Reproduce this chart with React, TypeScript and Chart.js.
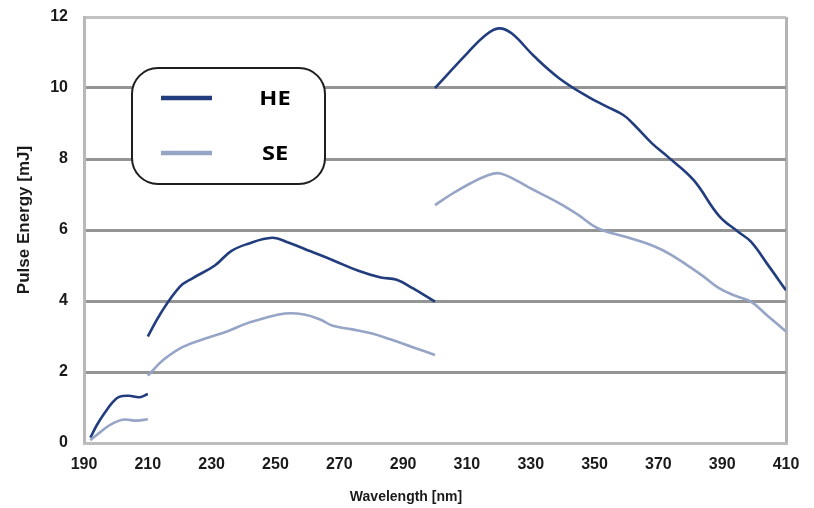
import React, { useEffect, useRef } from "react";
import { Chart, registerables } from "chart.js";

Chart.register(...registerables);

// Wavelength [nm] / Pulse Energy [mJ]
const heDeepUvX = [192, 194, 196.5, 199, 201, 204, 207.5, 210];
const heDeepUvY = [0.15, 0.5, 0.85, 1.15, 1.3, 1.33, 1.29, 1.38];
const seDeepUvX = [192, 195, 198, 201, 203, 206.5, 210];
const seDeepUvY = [0.08, 0.3, 0.5, 0.63, 0.66, 0.63, 0.67];

const heUvX = [210, 214, 220, 224, 231, 236, 241, 249, 254, 261, 268, 276, 283, 288, 293, 300];
const heUvY = [3.0, 3.65, 4.4, 4.64, 5.0, 5.4, 5.6, 5.78, 5.65, 5.4, 5.15, 4.85, 4.66, 4.6, 4.36, 3.98];
const seUvX = [210, 215, 221, 229, 235, 241, 247, 253, 259, 264, 268, 274, 280, 286, 293, 300];
const seUvY = [1.9, 2.35, 2.71, 2.97, 3.15, 3.37, 3.53, 3.65, 3.62, 3.48, 3.3, 3.2, 3.09, 2.92, 2.7, 2.48];

const heVisX = [300, 310, 316, 320, 324, 331, 339, 348, 354, 359, 362, 368, 373, 381, 389, 395, 399, 404, 410];
const heVisY = [10.0, 10.97, 11.5, 11.68, 11.54, 10.9, 10.27, 9.75, 9.47, 9.24, 9.0, 8.44, 8.06, 7.41, 6.4, 5.95, 5.67, 5.06, 4.3];
const seVisX = [300, 305, 311, 316, 320, 325, 330, 339, 345, 351, 360, 369, 374, 379, 384, 389, 394, 399, 404, 410];
const seVisY = [6.7, 7.0, 7.31, 7.52, 7.6, 7.42, 7.17, 6.75, 6.42, 6.05, 5.8, 5.53, 5.3, 5.01, 4.7, 4.36, 4.15, 3.98, 3.6, 3.14];

const xTicks = [190, 210, 230, 250, 270, 290, 310, 330, 350, 370, 390, 410];
const yTicks = [0, 2, 4, 6, 8, 10, 12];

const seriesNames = ["HE", "SE"];
const xTitle = "Wavelength [nm]";
const yTitle = "Pulse Energy [mJ]";

const HE_COLOR = "#223d7e";
const SE_COLOR = "#96a4c6";

const pts = (xs: number[], ys: number[]) => xs.map((x, i) => ({ x, y: ys[i] }));

const overlayPlugin = {
  id: "overlay",
  afterDraw(chart: any) {
    const ctx = chart.ctx as CanvasRenderingContext2D;
    ctx.save();
    // axis titles
    ctx.fillStyle = "#1a1a1a";
    ctx.textAlign = "center";
    ctx.textBaseline = "middle";
    ctx.font = "bold 14px 'Liberation Sans', Arial, sans-serif";
    ctx.fillText(xTitle, 406, 497);
    ctx.save();
    ctx.translate(24, 220);
    ctx.rotate(-Math.PI / 2);
    ctx.font = "bold 17px 'Liberation Sans', Arial, sans-serif";
    ctx.fillText(yTitle, 0, 0);
    ctx.restore();

    // legend box
    const bx = 132, by = 68, bw = 193, bh = 116, r = 26;
    ctx.beginPath();
    ctx.roundRect(bx, by, bw, bh, r);
    ctx.fillStyle = "#ffffff";
    ctx.fill();
    ctx.lineWidth = 2;
    ctx.strokeStyle = "#1e1e1e";
    ctx.stroke();

    const rows = [
      { name: seriesNames[0], color: HE_COLOR, y: 98 },
      { name: seriesNames[1], color: SE_COLOR, y: 153 },
    ];
    rows.forEach((row) => {
      ctx.beginPath();
      ctx.moveTo(161, row.y);
      ctx.lineTo(212, row.y);
      ctx.lineWidth = 4.5;
      ctx.strokeStyle = row.color;
      ctx.stroke();
      ctx.save();
      ctx.translate(275, row.y + 1);
      ctx.scale(1.18, 1);
      ctx.fillStyle = "#000000";
      ctx.font = "bold 20px 'Open Sans', 'Noto Sans', sans-serif";
      ctx.textAlign = "center";
      ctx.textBaseline = "middle";
      ctx.fillText(row.name, 0, 0);
      ctx.restore();
    });
    ctx.restore();
  },
};

export default function App() {
  const ref = useRef<HTMLCanvasElement>(null);

  useEffect(() => {
    if (!ref.current) return;
    const mk = (data: any, color: string) => ({
      data,
      borderColor: color,
      backgroundColor: color,
      borderWidth: 2.6,
      pointRadius: 0,
      tension: 0.4,
      fill: false,
    });
    const chart = new Chart(ref.current, {
      type: "line",
      data: {
        datasets: [
          mk(pts(seDeepUvX, seDeepUvY), SE_COLOR),
          mk(pts(seUvX, seUvY), SE_COLOR),
          mk(pts(seVisX, seVisY), SE_COLOR),
          mk(pts(heDeepUvX, heDeepUvY), HE_COLOR),
          mk(pts(heUvX, heUvY), HE_COLOR),
          mk(pts(heVisX, heVisY), HE_COLOR),
        ],
      },
      options: {
        animation: false,
        responsive: false,
        layout: { padding: { left: 0, top: 17, right: 28, bottom: 0 } },
        plugins: { legend: { display: false }, tooltip: { enabled: false } },
        scales: {
          x: {
            type: "linear",
            min: 190,
            max: 410,
            afterBuildTicks: (s: any) => {
              s.ticks = xTicks.map((v) => ({ value: v }));
            },
            afterFit: (s: any) => {
              s.height = 65;
              s.paddingLeft = 0;
              s.paddingRight = 0;
            },
            border: { display: true, color: "#bdbdbd", width: 3 },
            grid: {
              drawTicks: false,
              color: (c: any) => (c.tick && c.tick.value === 410 ? "#b3b3b3" : "rgba(0,0,0,0)"),
              lineWidth: 3,
            },
            ticks: {
              padding: 12,
              color: "#1a1a1a",
              font: { family: "'Liberation Sans', Arial, sans-serif", size: 16, weight: "bold" },
              maxRotation: 0,
              autoSkip: false,
            },
          },
          y: {
            min: 0,
            max: 12,
            afterBuildTicks: (s: any) => {
              s.ticks = yTicks.map((v) => ({ value: v }));
            },
            afterFit: (s: any) => {
              s.width = 84;
              s.paddingTop = 0;
              s.paddingBottom = 0;
            },
            border: { display: true, color: "#b8b8b8", width: 3 },
            grid: {
              drawTicks: false,
              color: (c: any) =>
                c.tick && (c.tick.value === 12 || c.tick.value === 0) ? "#c2c2c2" : "#959595",
              lineWidth: (c: any) => (c.tick && c.tick.value === 0 ? 0 : 3),
            },
            ticks: {
              padding: 16,
              color: "#1a1a1a",
              font: { family: "'Liberation Sans', Arial, sans-serif", size: 16, weight: "bold" },
            },
          },
        },
      },
      plugins: [overlayPlugin],
    });
    return () => chart.destroy();
  }, []);

  return (
    <div style={{ position: "fixed", left: 0, top: 0, width: 814, height: 508, background: "#fff" }}>
      <canvas ref={ref} width={814} height={508} />
    </div>
  );
}
